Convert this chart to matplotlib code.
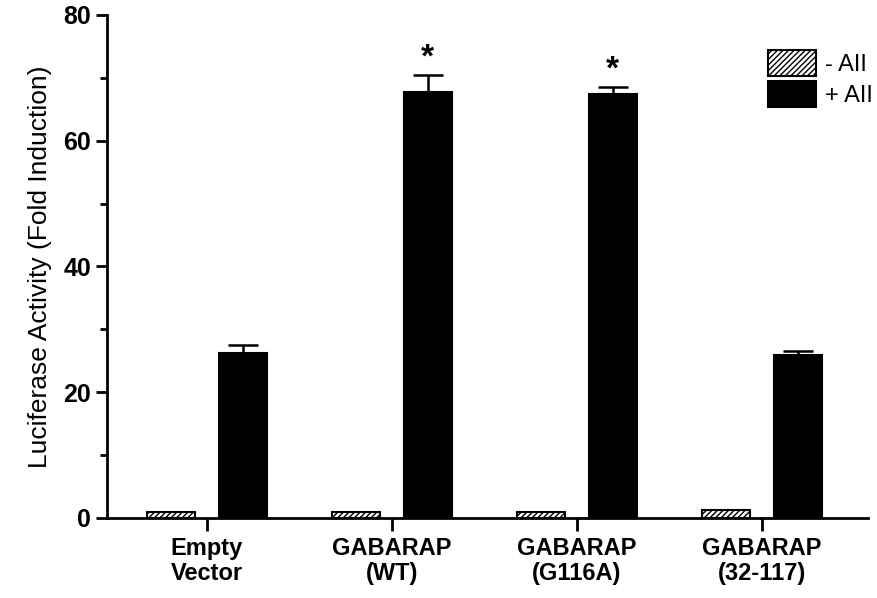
import matplotlib
matplotlib.use("Agg")
import matplotlib.pyplot as plt
import numpy as np
from matplotlib.ticker import MultipleLocator

categories = ["Empty\nVector", "GABARAP\n(WT)", "GABARAP\n(G116A)", "GABARAP\n(32-117)"]
minus_aii = [1.0, 1.0, 1.0, 1.2]
plus_aii = [26.2, 67.8, 67.4, 25.9]
plus_err = [1.3, 2.7, 1.2, 0.7]
significant = [False, True, True, False]

plt.rcParams['font.family'] = ['Liberation Sans', 'DejaVu Sans']
plt.rcParams['hatch.linewidth'] = 1.0

fig = plt.figure(figsize=(8.77, 5.98), dpi=100)
ax = fig.add_axes([0.122, 0.134, 0.868, 0.841])

x = np.arange(len(categories))
w = 0.258
off = 0.194
ax.bar(x - off, minus_aii, w, color='white', edgecolor='black', hatch='//////',
       linewidth=1.5, label='- AII', zorder=2)
ax.bar(x + off, plus_aii, w, color='black', edgecolor='black', linewidth=1.5,
       label='+ AII', zorder=2)
ax.errorbar(x + off, plus_aii, yerr=[np.zeros(len(plus_err)), plus_err], fmt='none',
            ecolor='black', elinewidth=1.8, capsize=11, capthick=1.8, zorder=3)
for xi, v, e, s in zip(x, plus_aii, plus_err, significant):
    if s:
        ax.text(xi + off, v + e + 0.2, '*', ha='center', va='bottom', fontsize=24,
                fontweight='bold')

ax.set_xlim(-0.54, 3.575)
ax.set_ylim(0, 80)
ax.spines['top'].set_visible(False)
ax.spines['right'].set_visible(False)
ax.spines['left'].set_linewidth(2)
ax.spines['bottom'].set_linewidth(2)
ax.spines['left'].set_bounds(0, 80)
ax.yaxis.set_major_locator(MultipleLocator(20))
ax.yaxis.set_minor_locator(MultipleLocator(10))
ax.tick_params(axis='y', which='major', length=8, width=2, labelsize=18, direction='out')
ax.tick_params(axis='y', which='minor', length=5, width=2, direction='out')
ax.set_xticks(x)
ax.set_xticklabels(categories, fontsize=17, fontweight='bold', linespacing=1.1)
ax.tick_params(axis='x', length=9, width=2, direction='out', pad=5)
for t in ax.get_yticklabels():
    t.set_fontweight('bold')
ax.set_ylabel('Luciferase Activity (Fold Induction)', fontsize=19, labelpad=8)

leg = ax.legend(loc='upper right', bbox_to_anchor=(1.034, 0.973), frameon=False,
                fontsize=17, handlelength=2.0, handleheight=1.3, handletextpad=0.4,
                labelspacing=0.25)

fig.savefig('out.png', dpi=100)
